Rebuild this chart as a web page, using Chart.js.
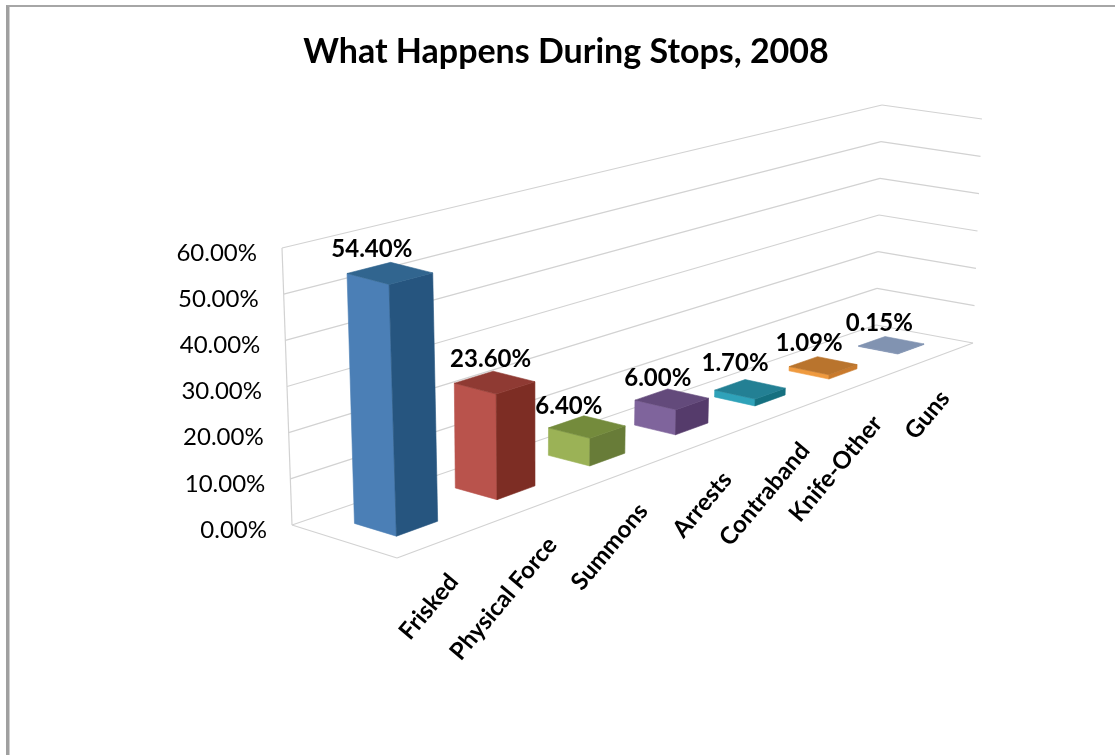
<!DOCTYPE html>
<html><head><meta charset="utf-8">
<style>
html,body{margin:0;padding:0;background:#fff;overflow:hidden}
#frame{position:absolute;left:6px;top:5px;right:-10px;bottom:-10px;border-left:3px solid #a0a0a0;border-top:2px solid #a6a6a6;box-shadow:inset 1px 0 0 #d0d0d0}
canvas{position:absolute;left:0;top:0}
</style>
<script src="https://cdn.jsdelivr.net/npm/chart.js@4"></script>
</head><body><div id="frame"></div><canvas id="c" width="1115" height="755"></canvas>
<script>
const chartTitle = 'What Happens During Stops, 2008';
const categories = ['Frisked','Physical Force','Summons','Arrests','Contraband','Knife-Other','Guns'];
const values = [54.40,23.60,6.40,6.00,1.70,1.09,0.15];
const frontColors = ['#4b7fb6','#b9534c','#9bb256','#7f649c','#2fa2b9','#ef9a3f','#8496b5'];
const sideColors  = ['#26557f','#7d2d24','#687c38','#553b6b','#157080','#c97a2c','#7f92b0'];
const topColors   = ['#31658f','#8f3a33','#748b3c','#634a7b','#238094','#b9742d','#8193b1'];

// Projection of the plot box: floor corners and ceiling corners on the page.
const FLOOR = [[397,558],[973,343],[876,325],[292,525]];
const CEIL  = [[387,276],[982,119],[882,105],[282,248]];
const DEPTH = [0.3,0.7];
const FORESHORTEN = -0.03;
const LABEL_SHIFT_X = [-18,-4,-18,-14,-15,-14,-12];
const LABEL_SHIFT_Y = [-24,-23,-21,-21,-26,-22,-22];

function homography(q){
  const [[x0,y0],[x1,y1],[x2,y2],[x3,y3]] = q;
  const dx1=x1-x2,dx2=x3-x2,sx=x0-x1+x2-x3,dy1=y1-y2,dy2=y3-y2,sy=y0-y1+y2-y3;
  const den=dx1*dy2-dx2*dy1;
  const g=(sx*dy2-dx2*sy)/den,h=(dx1*sy-sx*dy1)/den;
  const a=x1-x0+g*x1,b=x3-x0+h*x3,d=y1-y0+g*y1,e=y3-y0+h*y3;
  return (u,v)=>{const w=g*u+h*v+1;return [(a*u+b*v+x0)/w,(d*u+e*v+y0)/w];};
}
const H0=homography(FLOOR),H1=homography(CEIL);
function project(u,d,t){
  const w=u*(1+FORESHORTEN)/(1+FORESHORTEN*u);
  const p=H0(w,d),q=H1(w,d);
  return [p[0]+(q[0]-p[0])*t,p[1]+(q[1]-p[1])*t];
}
function poly(ctx,pts,color){
  ctx.beginPath();pts.forEach((p,i)=>i?ctx.lineTo(p[0],p[1]):ctx.moveTo(p[0],p[1]));ctx.closePath();
  ctx.fillStyle=color;ctx.fill();
  ctx.strokeStyle=color;ctx.lineWidth=0.6;ctx.stroke();
}
function seg(ctx,a,b){ctx.beginPath();ctx.moveTo(a[0],a[1]);ctx.lineTo(b[0],b[1]);ctx.stroke();}

const view3d={
  id:'view3d',
  beforeDatasetsDraw(chart){
    const ctx=chart.ctx,a=chart.chartArea,ys=chart.scales.y,xs=chart.scales.x;
    const T=v=>(a.bottom-ys.getPixelForValue(v))/a.height;
    ctx.save();
    ctx.strokeStyle='#d2d2d2';ctx.lineWidth=1.2;
    ys.ticks.forEach(t=>{
      const h=T(t.value);
      seg(ctx,project(0,1,h),project(1,1,h));
      seg(ctx,project(1,1,h),project(1,0,h));
    });
    seg(ctx,project(0,1,0),project(0,0,0));
    seg(ctx,project(0,0,0),project(1,0,0));
    seg(ctx,project(0,1,0),project(0,1,1));
    // value axis labels
    ctx.fillStyle='#000';ctx.font='24px Lato';ctx.textAlign='right';ctx.textBaseline='middle';
    ys.ticks.forEach(t=>{
      const p=project(0,1,T(t.value));
      ctx.fillText(t.label,p[0]-25,p[1]+5);
    });
    // category labels
    ctx.font='bold 24px Lato';
    xs.ticks.forEach((t,i)=>{
      const u=(xs.getPixelForTick(i)-a.left)/a.width;
      const p=project(u,0,0);
      ctx.save();ctx.translate(p[0]+4,p[1]+39);ctx.rotate(-50*Math.PI/180);
      ctx.textBaseline='middle';ctx.fillText(categories[i],0,0);ctx.restore();
    });
    ctx.restore();
  },
  beforeDatasetDraw(chart,args){
    const ctx=chart.ctx,a=chart.chartArea;
    const els=args.meta.data;
    const [d0,d1]=DEPTH;
    for(let i=els.length-1;i>=0;i--){
      const p=els[i].getProps(['x','y','base','width'],true);
      const u0=(p.x-p.width/2-a.left)/a.width,u1=(p.x+p.width/2-a.left)/a.width;
      const h=(a.bottom-p.y)/a.height;
      poly(ctx,[project(u0,d1,0),project(u0,d0,0),project(u0,d0,h),project(u0,d1,h)],frontColors[i]);
      poly(ctx,[project(u0,d0,0),project(u1,d0,0),project(u1,d0,h),project(u0,d0,h)],sideColors[i]);
      poly(ctx,[project(u0,d1,h),project(u0,d0,h),project(u1,d0,h),project(u1,d1,h)],topColors[i]);
    }
    ctx.save();
    ctx.fillStyle='#000';ctx.font='bold 24px Lato';ctx.textAlign='center';ctx.textBaseline='middle';
    els.forEach((el,i)=>{
      const p=el.getProps(['x','width','y'],true);
      const u=(p.x-a.left)/a.width;
      const top=project(u,(d0+d1)/2,(a.bottom-p.y)/a.height);
      ctx.fillText(values[i].toFixed(2)+'%',top[0]+LABEL_SHIFT_X[i],top[1]+LABEL_SHIFT_Y[i]);
    });
    ctx.restore();
    return false;
  }
};

new Chart(document.getElementById('c'),{
  type:'bar',
  data:{labels:categories,datasets:[{data:values,backgroundColor:frontColors,barPercentage:0.4,categoryPercentage:1}]},
  options:{
    responsive:false,animation:false,
    layout:{padding:{left:17}},
    plugins:{
      legend:{display:false},tooltip:{enabled:false},
      title:{display:true,text:chartTitle,color:'#000',font:{family:'Lato',size:34,weight:'bold'},padding:{top:32,bottom:10}}
    },
    scales:{
      x:{display:false},
      y:{display:false,min:0,max:60,ticks:{stepSize:10,callback:v=>v.toFixed(2)+'%'}}
    }
  },
  plugins:[view3d]
});
</script>
</body></html>
